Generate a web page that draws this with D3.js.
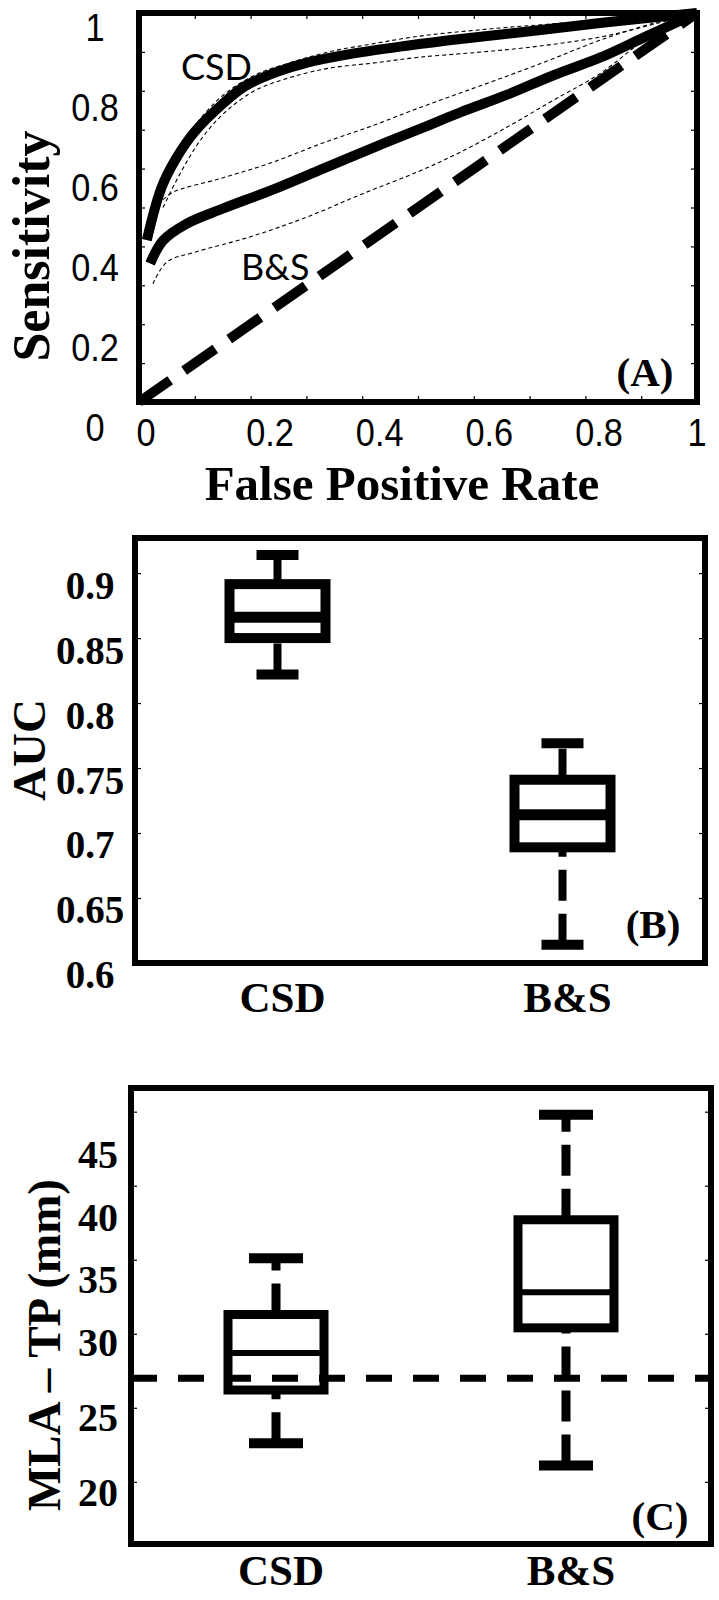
<!DOCTYPE html>
<html><head><meta charset="utf-8">
<script src="https://cdn.jsdelivr.net/npm/d3@7"></script>
<style>body{margin:0;background:#fff}</style>
</head><body>
<script>
// ---------------- DATA ----------------
// Panel A: ROC curves [false positive rate, sensitivity]
const rocTicks = [0, 0.2, 0.4, 0.6, 0.8, 1];
const rocMinorTicks = [0, 0.1, 0.2, 0.3, 0.4, 0.5, 0.6, 0.7, 0.8, 0.9, 1];
const rocTickLabels = ["0", "0.2", "0.4", "0.6", "0.8", "1"];
const csdMean = [[0.014,0.416],[0.04,0.55],[0.066,0.625],[0.1,0.695],[0.145,0.76],[0.19,0.812],[0.25,0.85],[0.3,0.872],[0.38,0.895],[0.48,0.916],[0.58,0.934],[0.7,0.953],[0.83,0.975],[1,1]];
const csdUpper = [[0.04,0.545],[0.07,0.64],[0.098,0.706],[0.147,0.784],[0.207,0.84],[0.268,0.871],[0.34,0.9],[0.424,0.922],[0.5,0.94],[0.62,0.958],[0.75,0.973],[0.9,0.988],[1,1]];
const csdLower = [[0.043,0.5],[0.074,0.588],[0.11,0.673],[0.152,0.742],[0.207,0.8],[0.268,0.833],[0.34,0.858],[0.424,0.872],[0.5,0.886],[0.6,0.898],[0.7,0.912],[0.826,0.938],[0.925,0.972],[1,1]];
const bsMean = [[0.02,0.356],[0.043,0.415],[0.085,0.458],[0.15,0.497],[0.24,0.546],[0.33,0.6],[0.415,0.651],[0.5,0.7],[0.577,0.745],[0.66,0.79],[0.743,0.84],[0.826,0.885],[0.909,0.94],[1,1]];
const bsUpper = [[0.043,0.52],[0.062,0.54],[0.147,0.575],[0.237,0.615],[0.328,0.665],[0.418,0.71],[0.5,0.755],[0.577,0.795],[0.66,0.838],[0.743,0.883],[0.826,0.93],[0.925,0.975],[1,1]];
const bsLower = [[0.025,0.304],[0.05,0.36],[0.1,0.385],[0.2,0.425],[0.3,0.475],[0.4,0.535],[0.5,0.592],[0.577,0.643],[0.66,0.707],[0.743,0.776],[0.826,0.844],[0.925,0.95],[1,1]];
const chanceLine = [[0,0],[1,1]];

// Panel B: AUC box plots
const methods = ["CSD", "B&S"];
const aucLowerWhisker = [0.822, 0.614];
const aucQ1 = [0.850, 0.689];
const aucMedian = [0.866, 0.714];
const aucQ3 = [0.8915, 0.741];
const aucUpperWhisker = [0.914, 0.769];
const aucTicks = [0.6, 0.65, 0.7, 0.75, 0.8, 0.85, 0.9];
const aucTickLabels = ["0.6", "0.65", "0.7", "0.75", "0.8", "0.85", "0.9"];

// Panel C: MLA - TP distance box plots (mm)
const mlaLowerWhisker = [22.6, 21.1];
const mlaQ1 = [26.2, 30.4];
const mlaMedian = [28.7, 32.8];
const mlaQ3 = [31.3, 37.7];
const mlaUpperWhisker = [35.1, 44.8];
const mlaReference = [27.0];
const mlaTicks = [20, 25, 30, 35, 40, 45];
const mlaTickLabels = ["20", "25", "30", "35", "40", "45"];

// ---------------- DRAWING ----------------
const W = 719, H = 1600;
const svg = d3.select("body").append("svg").attr("width", W).attr("height", H);
svg.append("rect").attr("width", W).attr("height", H).attr("fill", "#fff");
const SERIF = "'Liberation Serif','Times New Roman',serif";
const SANS = "'Liberation Sans',Arial,sans-serif";

function frame(g, x0, y0, x1, y1) {
  g.append("rect").attr("x", x0).attr("y", y0).attr("width", x1 - x0).attr("height", y1 - y0)
    .attr("fill", "none").attr("stroke", "#000").attr("stroke-width", 6);
}
function inwardTicks(g, axisGen, tx, ty) {
  const a = g.append("g").attr("transform", `translate(${tx},${ty})`).call(axisGen);
  a.select(".domain").remove();
  a.selectAll(".tick line").attr("stroke", "#000").attr("stroke-width", 1.2);
  a.selectAll(".tick text").remove();
}

// ===== Panel A =====
const ax = d3.scaleLinear().domain([0, 1]).range([139, 697]);
const ay = d3.scaleLinear().domain([0, 1]).range([402, 13]);
// tick-label placement scales (labels in the figure sit slightly off their ticks)
const axLab = d3.scaleLinear().domain([0, 0.2, 0.8, 1]).range([146, 270, 599, 697]);
const ayLab = d3.scaleLinear().domain([0, 1]).range([427, 27]);
const gA = svg.append("g");
inwardTicks(gA, d3.axisBottom(ax).tickValues(rocMinorTicks).tickSize(-6), 0, ay(0));
inwardTicks(gA, d3.axisTop(ax).tickValues(rocMinorTicks).tickSize(-6), 0, ay(1));
inwardTicks(gA, d3.axisLeft(ay).tickValues(rocMinorTicks).tickSize(-6), ax(0), 0);
inwardTicks(gA, d3.axisRight(ay).tickValues(rocMinorTicks).tickSize(-6), ax(1), 0);

const rocLine = d3.line().x(d => ax(d[0])).y(d => ay(d[1])).curve(d3.curveCatmullRom.alpha(0.5));
[csdUpper, csdLower, bsUpper, bsLower].forEach(s => {
  gA.append("path").attr("d", rocLine(s)).attr("fill", "none").attr("stroke", "#000")
    .attr("stroke-width", 1.1).attr("stroke-dasharray", "4,3");
});
[csdMean, bsMean].forEach(s => {
  gA.append("path").attr("d", rocLine(s)).attr("fill", "none").attr("stroke", "#000")
    .attr("stroke-width", 10).attr("stroke-linejoin", "round");
});
gA.append("path").attr("d", d3.line().x(d => ax(d[0])).y(d => ay(d[1]))(chanceLine))
  .attr("fill", "none").attr("stroke", "#000").attr("stroke-width", 10).attr("stroke-dasharray", "38,17");
frame(gA, ax(0), ay(1), ax(1), ay(0));

gA.selectAll(".yl").data(rocTicks).join("text")
  .attr("transform", d => `translate(95,${ayLab(d) + 14}) scale(0.88,1)`)
  .attr("text-anchor", "middle").attr("font-family", SANS).attr("font-size", 39)
  .text((d, i) => rocTickLabels[i]);
gA.selectAll(".xl").data(rocTicks).join("text")
  .attr("transform", d => `translate(${axLab(d)},446) scale(0.88,1)`)
  .attr("text-anchor", "middle").attr("font-family", SANS).attr("font-size", 39)
  .text((d, i) => rocTickLabels[i]);
gA.append("text").attr("transform", `translate(49,246) rotate(-90)`)
  .attr("text-anchor", "middle").attr("font-family", SERIF).attr("font-weight", "bold").attr("font-size", 52)
  .text("Sensitivity");
gA.append("text").attr("x", 402).attr("y", 500)
  .attr("text-anchor", "middle").attr("font-family", SERIF).attr("font-weight", "bold").attr("font-size", 49)
  .text("False Positive Rate");
gA.append("text").attr("x", 181).attr("y", 80).attr("font-family", "Lato,'Open Sans',sans-serif").attr("font-size", 36).text("CSD");
gA.append("text").attr("x", 241).attr("y", 280).attr("font-family", "Lato,'Open Sans',sans-serif").attr("font-size", 36).text("B&S");
gA.append("text").attr("x", 645).attr("y", 386).attr("text-anchor", "middle").attr("font-family", SERIF).attr("font-weight", "bold").attr("font-size", 41).text("(A)");

// ===== box plot helper =====
function boxPanel(o) {
  const g = svg.append("g");
  const x = d3.scalePoint().domain(methods).range([o.x0, o.x1]).padding(0.5);
  const y = d3.scaleLinear().domain(o.domain).range([o.y1, o.y0]);
  const yLab = d3.scaleLinear().domain(o.labDomain).range(o.labRange);
  inwardTicks(g, d3.axisLeft(y).tickValues(o.ticks).tickSize(-6), o.x0, 0);
  inwardTicks(g, d3.axisRight(y).tickValues(o.ticks).tickSize(-6), o.x1, 0);
  if (o.reference) {
    g.selectAll(".ref").data(o.reference).join("line")
      .attr("x1", o.x0).attr("x2", o.x1).attr("y1", d => y(d)).attr("y2", d => y(d))
      .attr("stroke", "#000").attr("stroke-width", 7).attr("stroke-dasharray", "26,21");
  }
  methods.forEach((m, i) => {
    const cx = x(m);
    [[o.lw[i], o.q1[i]], [o.q3[i], o.uw[i]]].forEach(([a, b]) => {
      g.append("line").attr("x1", cx).attr("x2", cx).attr("y1", y(a)).attr("y2", y(b))
        .attr("stroke", "#000").attr("stroke-width", o.whiskerW).attr("stroke-dasharray", "31,13");
    });
    [o.lw[i], o.uw[i]].forEach(v => {
      g.append("line").attr("x1", cx - o.capHalf).attr("x2", cx + o.capHalf).attr("y1", y(v)).attr("y2", y(v))
        .attr("stroke", "#000").attr("stroke-width", 10);
    });
    g.append("rect").attr("x", cx - o.boxHalf).attr("width", 2 * o.boxHalf)
      .attr("y", y(o.q3[i])).attr("height", y(o.q1[i]) - y(o.q3[i]))
      .attr("fill", "none").attr("stroke", "#000").attr("stroke-width", o.boxW);
    g.append("line").attr("x1", cx - o.boxHalf).attr("x2", cx + o.boxHalf)
      .attr("y1", y(o.med[i])).attr("y2", y(o.med[i]))
      .attr("stroke", "#000").attr("stroke-width", o.medW);
  });
  frame(g, o.x0, o.y0, o.x1, o.y1);
  g.selectAll(".yl").data(o.ticks).join("text")
    .attr("x", o.labelX).attr("y", d => yLab(d) + 13)
    .attr("text-anchor", "middle").attr("font-family", SERIF).attr("font-weight", "bold").attr("font-size", o.labelSize)
    .text((d, i) => o.tickLabels[i]);
  g.selectAll(".xl").data(methods).join("text")
    .attr("x", d => x(d) + o.catDx).attr("y", o.catY)
    .attr("text-anchor", "middle").attr("font-family", SERIF).attr("font-weight", "bold").attr("font-size", 43)
    .text(d => d);
  g.append("text").attr("transform", `translate(${o.titleX},${o.titleY}) rotate(-90)`)
    .attr("text-anchor", "middle").attr("font-family", SERIF).attr("font-weight", "bold").attr("font-size", o.titleSize)
    .text(o.title);
  g.append("text").attr("x", o.tagX).attr("y", o.tagY).attr("text-anchor", "middle")
    .attr("font-family", SERIF).attr("font-weight", "bold").attr("font-size", 41).text(o.tag);
}

// ===== Panel B =====
boxPanel({
  x0: 135, x1: 705, y0: 538, y1: 963, domain: [0.6, 0.927],
  ticks: aucTicks, tickLabels: aucTickLabels,
  labDomain: [0.6, 0.9], labRange: [975, 586],
  lw: aucLowerWhisker, q1: aucQ1, med: aucMedian, q3: aucQ3, uw: aucUpperWhisker,
  whiskerW: 8, capHalf: 21, boxHalf: 48, boxW: 10, medW: 11,
  labelX: 90, labelSize: 39, catY: 1012, catDx: 5,
  title: "AUC", titleX: 45, titleY: 750, titleSize: 47,
  tag: "(B)", tagX: 653, tagY: 938
});

// ===== Panel C =====
boxPanel({
  x0: 131, x1: 711, y0: 1088, y1: 1544, domain: [15.8, 46.6],
  ticks: mlaTicks, tickLabels: mlaTickLabels, reference: mlaReference,
  labDomain: [20, 30, 45], labRange: [1493, 1343, 1155],
  lw: mlaLowerWhisker, q1: mlaQ1, med: mlaMedian, q3: mlaQ3, uw: mlaUpperWhisker,
  whiskerW: 9, capHalf: 27, boxHalf: 48, boxW: 9, medW: 6,
  labelX: 98, labelSize: 40, catY: 1585, catDx: 5,
  title: "MLA – TP (mm)", titleX: 60, titleY: 1345, titleSize: 47,
  tag: "(C)", tagX: 660, tagY: 1530
});
</script>
</body></html>
